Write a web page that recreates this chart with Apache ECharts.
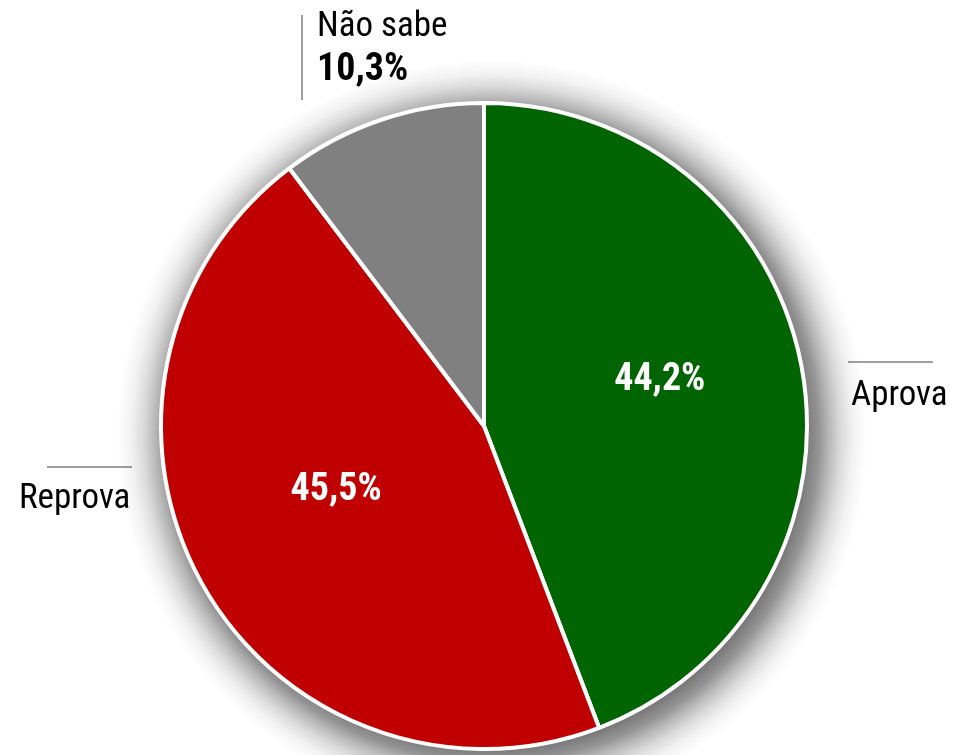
<!DOCTYPE html>
<html>
<head>
<meta charset="utf-8">
<script src="https://cdn.jsdelivr.net/npm/echarts@6/dist/echarts.min.js"></script>
<style>
  html, body { margin: 0; padding: 0; background: #fff; }
  #chart { width: 955px; height: 755px; }
</style>
</head>
<body>
<div id="chart"></div>
<script>
const categories = ['Aprova', 'Reprova', 'Não sabe'];
const values = [44.2, 45.5, 10.3];
const colors = ['#006400', '#C00000', '#808080'];

const FONT = '"Roboto Condensed", "DejaVu Sans Condensed", sans-serif';
const CENTER = [484, 426];
const R = 323;

// soft drop shadow: a disc a bit bigger than the pie, shifted down-right
const SH = 52;
const shadowStops = [
  [R - 12, 0.55], [R + 4, 0.42], [R + 14, 0.28], [R + 26, 0.14], [R + 38, 0.05], [R + SH, 0]
].map(s => ({ offset: s[0] / (R + SH), color: 'rgba(0,0,0,' + s[1] + ')' }));

// where the outside labels sit (label box top-left) and their leader lines
const outerPos = [
  { x: 851, y: 375, line: [[848, 362], [890, 362], [933, 362]] },
  { x: 19, y: 478, line: [[47, 467], [90, 467], [132, 467]] },
  { x: 317, y: 6, line: [[302, 15], [302, 57], [302, 100]] }
];

const fmt = v => v.toFixed(1).replace('.', ',') + '%';

const pieData = categories.map((name, i) => ({
  name: name,
  value: values[i],
  itemStyle: { color: colors[i] }
}));

const chart = echarts.init(document.getElementById('chart'));

chart.setOption({
  backgroundColor: '#fff',
  animation: false,
  series: [
    {
      type: 'pie',
      silent: true,
      center: [CENTER[0] + 8, CENTER[1] + 9],
      radius: R + SH,
      label: { show: false },
      labelLine: { show: false },
      itemStyle: {
        color: { type: 'radial', x: 0.5, y: 0.5, r: 0.5, colorStops: shadowStops }
      },
      data: [{ value: 1 }]
    },
    // the pie with inside percentages
    {
      type: 'pie',
      center: CENTER,
      radius: R,
      startAngle: 90,
      clockwise: true,
      itemStyle: { borderColor: '#fff', borderWidth: 4 },
      label: {
        show: true,
        position: 'inside',
        color: '#fff',
        fontFamily: FONT,
        fontWeight: 'bold',
        fontSize: 38,
        formatter: p => p.dataIndex === 2 ? '' : fmt(p.value)
      },
      labelLayout: p => {
        if (p.dataIndex === 0) return { dx: 14, dy: -16 };
        if (p.dataIndex === 1) return { dx: -4, dy: -15 };
        return {};
      },
      data: pieData
    },
    // transparent copy carrying the outside names
    {
      type: 'pie',
      silent: true,
      center: CENTER,
      radius: R,
      startAngle: 90,
      clockwise: true,
      itemStyle: { color: 'transparent' },
      label: {
        show: true,
        position: 'outside',
        overflow: 'none',
        color: '#000',
        fontFamily: FONT,
        fontSize: 35,
        lineHeight: 43,
        align: 'left',
        verticalAlign: 'top',
        formatter: p => p.dataIndex === 2
          ? p.name + '\n{b|' + fmt(p.value) + '}'
          : p.name,
        rich: {
          b: { fontFamily: FONT, fontSize: 38, fontWeight: 'bold', color: '#000', lineHeight: 43 }
        }
      },
      labelLine: {
        show: true,
        lineStyle: { color: '#7f7f7f', width: 1.5 }
      },
      labelLayout: p => {
        const o = outerPos[p.dataIndex];
        return { x: o.x, y: o.y, align: 'left', verticalAlign: 'top', labelLinePoints: o.line };
      },
      data: categories.map((name, i) => ({ name: name, value: values[i] }))
    }
  ]
});
</script>
</body>
</html>
